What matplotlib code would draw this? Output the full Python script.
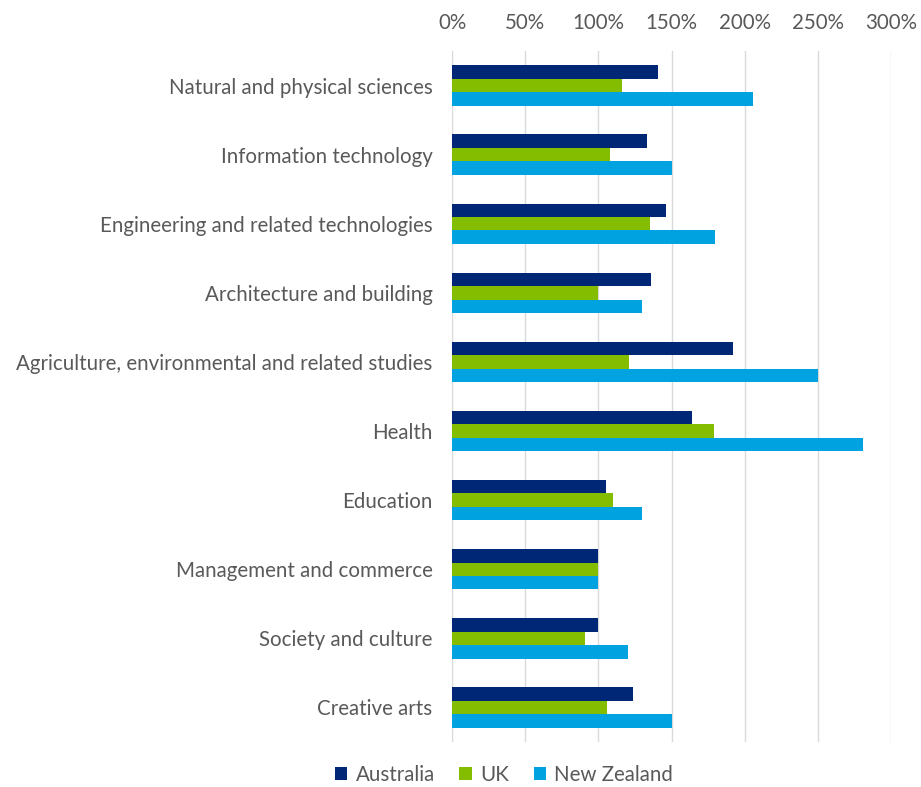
import matplotlib
matplotlib.use("Agg")
import matplotlib.pyplot as plt
import numpy as np
from matplotlib.ticker import FuncFormatter

categories = [
    "Natural and physical sciences",
    "Information technology",
    "Engineering and related technologies",
    "Architecture and building",
    "Agriculture, environmental and related studies",
    "Health",
    "Education",
    "Management and commerce",
    "Society and culture",
    "Creative arts",
]
australia = [141, 133, 146, 136, 192, 164, 105, 100, 100, 124]
uk = [116, 108, 135, 100, 121, 179, 110, 100, 91, 106]
new_zealand = [206, 150, 180, 130, 250, 281, 130, 100, 120, 150]
series_names = ["Australia", "UK", "New Zealand"]
colors = ["#002776", "#84bd00", "#00a3e0"]
xticks = [0, 50, 100, 150, 200, 250, 300]

plt.rcParams["font.family"] = ["Lato", "DejaVu Sans"]
text_color = "#595959"
fs = 14.8

fig = plt.figure(figsize=(9.21, 7.87), dpi=100)
ax = fig.add_axes([452/921, 45/787, 439/921, 691/787])

y = np.arange(len(categories))
h = 0.195
for i, (vals, name, c) in enumerate(zip([australia, uk, new_zealand], series_names, colors)):
    ax.barh(y + (i - 1) * h, vals, height=h, color=c, label=name, zorder=3)

ax.set_xlim(0, 300)
ax.set_ylim(len(categories) - 0.5, -0.5)
ax.set_xticks(xticks)
ax.xaxis.set_major_formatter(FuncFormatter(lambda v, p: f"{int(v)}%"))
ax.xaxis.tick_top()
ax.set_yticks(y)
ax.set_yticklabels(categories)
ax.tick_params(axis="both", length=0, labelsize=fs, colors=text_color)
ax.tick_params(axis="y", pad=14)
ax.tick_params(axis="x", pad=13)
ax.grid(axis="x", color="#d9d9d9", linewidth=1, zorder=0)
for s in ax.spines.values():
    s.set_visible(False)

handles, labels = ax.get_legend_handles_labels()
fig.legend(handles, labels, loc="center", bbox_to_anchor=(504/921, 1 - 775/787),
           ncol=3, frameon=False, fontsize=fs, handlelength=0.6, handleheight=0.6,
           handletextpad=0.4, columnspacing=1.2, labelcolor=text_color,
           borderpad=0.1)

fig.savefig("out.png", dpi=100)
